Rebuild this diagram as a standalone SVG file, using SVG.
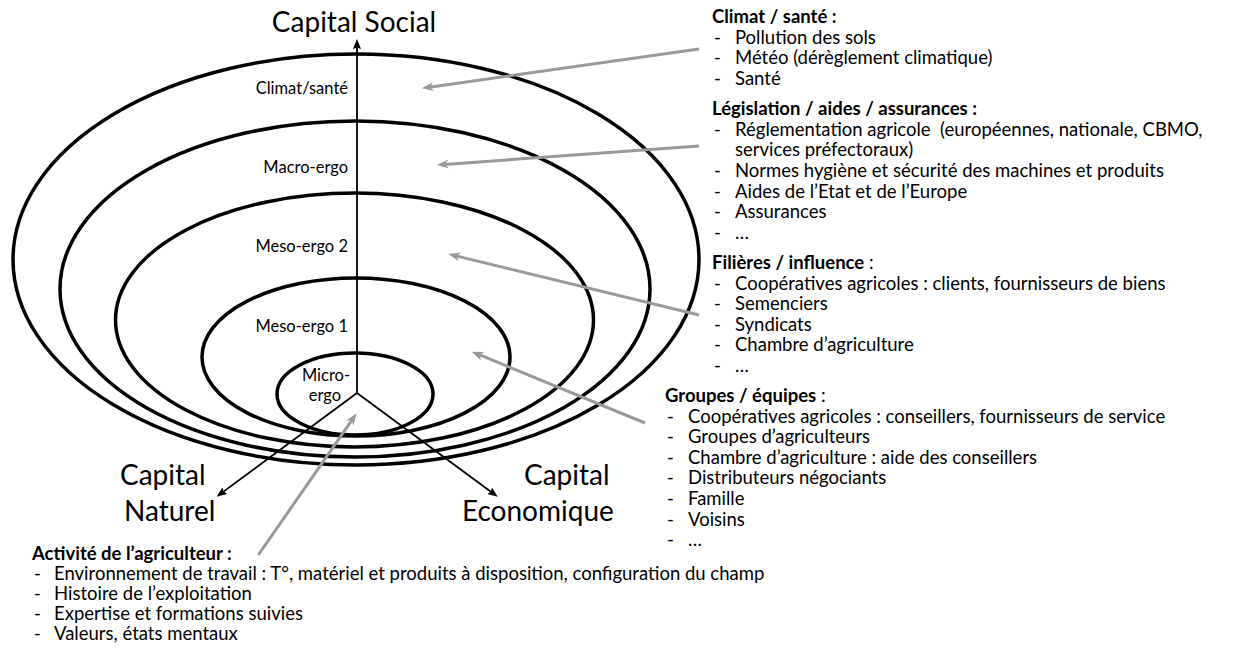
<svg xmlns="http://www.w3.org/2000/svg" width="1238" height="648" viewBox="0 0 1238 648">
<style>
.el{fill:none;stroke:#000;stroke-width:3.5}
.ax{fill:none;stroke:#000;stroke-width:1.8}
.gr{fill:none;stroke:#999;stroke-width:3}
.t{font-family:Lato,"Liberation Sans",sans-serif;fill:#000}
.big{font-size:28px}
.lbl{font-size:16.5px}
.li{font-size:18.5px}
.b{font-weight:bold}
</style>
<defs>
<marker id="ah" viewBox="0 0 10 8" markerWidth="10" markerHeight="8" refX="1.5" refY="4" orient="auto" markerUnits="userSpaceOnUse"><path d="M0,0 L10,4 L0,8 L1.5,4 z" fill="#000"/></marker>
<marker id="gh" viewBox="0 0 12 10" markerWidth="12" markerHeight="10" refX="4" refY="5" orient="auto" markerUnits="userSpaceOnUse"><path d="M0,0.5 L12,5 L0,9.5 L3.5,5 z" fill="#999"/></marker>
</defs>
<rect width="1238" height="648" fill="#fff"/>
<g id="climat-sante"><ellipse class="el" cx="356" cy="259.5" rx="343" ry="205.5"/><text class="t lbl" x="348" y="94" text-anchor="end">Climat/santé</text></g>
<g id="macro-ergo"><ellipse class="el" cx="355" cy="289" rx="295" ry="168"/><text class="t lbl" x="348" y="173" text-anchor="end">Macro-ergo</text></g>
<g id="meso-ergo-2"><ellipse class="el" cx="354.5" cy="320" rx="239" ry="127"/><text class="t lbl" x="348" y="252" text-anchor="end">Meso-ergo 2</text></g>
<g id="meso-ergo-1"><ellipse class="el" cx="356" cy="357" rx="154" ry="79"/><text class="t lbl" x="348" y="332" text-anchor="end">Meso-ergo 1</text></g>
<g id="micro-ergo"><ellipse class="el" cx="355" cy="394" rx="78" ry="41"/><text class="t lbl" x="326" y="381" text-anchor="middle">Micro-</text><text class="t lbl" x="325" y="401" text-anchor="middle">ergo</text></g>
<g id="capital-social"><text class="t big" x="354" y="32" text-anchor="middle">Capital Social</text></g>
<g id="capital-naturel"><text class="t big" x="120" y="485">Capital</text><text class="t big" x="124" y="521">Naturel</text></g>
<g id="capital-economique"><text class="t big" x="524" y="485">Capital</text><text class="t big" x="462" y="521">Economique</text></g>
<g id="connectors">
<line class="ax" x1="357" y1="393" x2="357" y2="47.5" marker-end="url(#ah)"/>
<line class="ax" x1="357" y1="393" x2="223.5" y2="491.6" marker-end="url(#ah)"/>
<line class="ax" x1="357" y1="393" x2="490.9" y2="491.7" marker-end="url(#ah)"/>
<line class="gr" x1="699" y1="49" x2="429.6" y2="87.2" marker-end="url(#gh)"/>
<line class="gr" x1="699" y1="146" x2="444.7" y2="164.4" marker-end="url(#gh)"/>
<line class="gr" x1="699" y1="315" x2="456.1" y2="255.9" marker-end="url(#gh)"/>
<line class="gr" x1="645" y1="423" x2="479.1" y2="354.7" marker-end="url(#gh)"/>
<line class="gr" x1="258.3" y1="555" x2="352.1" y2="419.9" marker-end="url(#gh)"/>
</g>
<g id="note-climat" class="t li">
<text class="b" x="712" y="23">Climat / santé :</text>
<text x="714" y="43.5">-</text><text x="735" y="43.5">Pollution des sols</text>
<text x="714" y="64">-</text><text x="735" y="64">Météo (dérèglement climatique)</text>
<text x="714" y="85">-</text><text x="735" y="85">Santé</text>
</g>
<g id="note-legislation" class="t li">
<text class="b" x="712" y="115">Législation / aides / assurances :</text>
<text x="714" y="135.5">-</text><text x="735" y="135.5" xml:space="preserve">Réglementation agricole  (européennes, nationale, CBMO,</text>
<text x="735" y="156">services préfectoraux)</text>
<text x="714" y="177">-</text><text x="735" y="177">Normes hygiène et sécurité des machines et produits</text>
<text x="714" y="197.5">-</text><text x="735" y="197.5">Aides de l’Etat et de l’Europe</text>
<text x="714" y="218">-</text><text x="735" y="218">Assurances</text>
<text x="714" y="239">-</text><text x="735" y="239">…</text>
</g>
<g id="note-filieres" class="t li">
<text x="712" y="269"><tspan class="b">Filières / influence</tspan> :</text>
<text x="714" y="289.5">-</text><text x="735" y="289.5">Coopératives agricoles : clients, fournisseurs de biens</text>
<text x="714" y="310">-</text><text x="735" y="310">Semenciers</text>
<text x="714" y="330.5">-</text><text x="735" y="330.5">Syndicats</text>
<text x="714" y="351">-</text><text x="735" y="351">Chambre d’agriculture</text>
<text x="714" y="372">-</text><text x="735" y="372">…</text>
</g>
<g id="note-groupes" class="t li">
<text x="665" y="402"><tspan class="b">Groupes / équipes</tspan> :</text>
<text x="667" y="422.5">-</text><text x="688" y="422.5">Coopératives agricoles : conseillers, fournisseurs de service</text>
<text x="667" y="443">-</text><text x="688" y="443">Groupes d’agriculteurs</text>
<text x="667" y="463.5">-</text><text x="688" y="463.5">Chambre d’agriculture : aide des conseillers</text>
<text x="667" y="484">-</text><text x="688" y="484">Distributeurs négociants</text>
<text x="667" y="505">-</text><text x="688" y="505">Famille</text>
<text x="667" y="525.5">-</text><text x="688" y="525.5">Voisins</text>
<text x="667" y="546">-</text><text x="688" y="546">…</text>
</g>
<g id="note-activite" class="t li">
<text class="b" x="32" y="560">Activité de l’agriculteur :</text>
<text x="34" y="580">-</text><text x="54" y="580">Environnement de travail : T°, matériel et produits à disposition, configuration du champ</text>
<text x="34" y="600">-</text><text x="54" y="600">Histoire de l’exploitation</text>
<text x="34" y="620">-</text><text x="54" y="620">Expertise et formations suivies</text>
<text x="34" y="640">-</text><text x="54" y="640">Valeurs, états mentaux</text>
</g>
</svg>
